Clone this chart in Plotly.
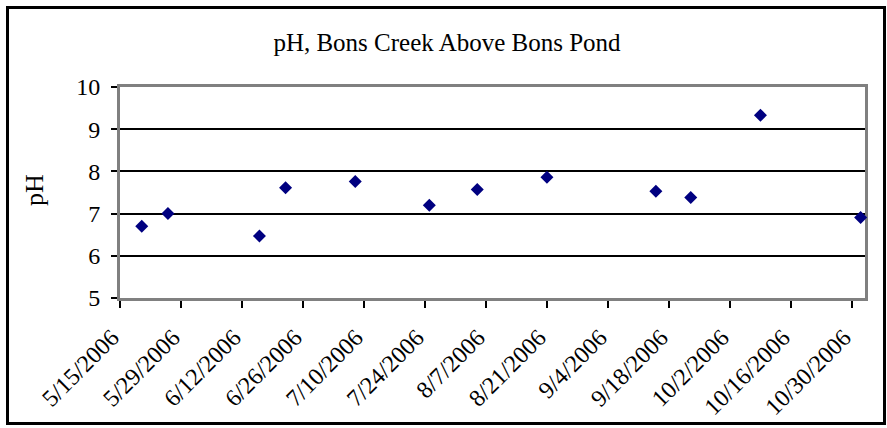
import plotly.graph_objects as go

# ---- data ----
sample_dates = ["2006-05-20", "2006-05-26", "2006-06-16", "2006-06-22", "2006-07-08",
                "2006-07-25", "2006-08-05", "2006-08-21", "2006-09-15", "2006-09-23",
                "2006-10-09", "2006-11-01"]
ph_values = [6.70, 7.00, 6.47, 7.61, 7.76, 7.20, 7.57, 7.86, 7.53, 7.38, 9.33, 6.91]

tick_dates = ["2006-05-15", "2006-05-29", "2006-06-12", "2006-06-26", "2006-07-10",
              "2006-07-24", "2006-08-07", "2006-08-21", "2006-09-04", "2006-09-18",
              "2006-10-02", "2006-10-16", "2006-10-30"]
tick_labels = ["5/15/2006", "5/29/2006", "6/12/2006", "6/26/2006", "7/10/2006",
               "7/24/2006", "8/7/2006", "8/21/2006", "9/4/2006", "9/18/2006",
               "10/2/2006", "10/16/2006", "10/30/2006"]
y_ticks = [5, 6, 7, 8, 9, 10]

title_text = "pH, Bons Creek Above Bons Pond"
y_title = "pH"

# ---- layout geometry ----
W, H = 887, 428
ML, MR, MT, MB = 120, 22, 87, 130
PW, PH = W - ML - MR, H - MT - MB

def px_x(p):
    return (p - ML) / PW

def px_y(p):
    return 1 - (p - MT) / PH

FONT = "Liberation Serif"

fig = go.Figure()
fig.add_trace(go.Scatter(
    x=sample_dates, y=ph_values, mode="markers",
    marker=dict(symbol="diamond", size=10, color="#000080", line=dict(width=0)),
    showlegend=False, cliponaxis=False,
))

fig.update_layout(
    width=W, height=H,
    margin=dict(l=ML, r=MR, t=MT, b=MB, autoexpand=False),
    paper_bgcolor="white", plot_bgcolor="white",
    font=dict(family=FONT, color="black"),
    title=dict(text=title_text, xref="container", yref="container",
               x=447 / W, y=1 - 42 / H, xanchor="center", yanchor="middle",
               font=dict(family=FONT, size=25, color="black")),
    xaxis=dict(
        type="date", range=["2006-05-15", "2006-11-02"], automargin=False,
        tickmode="array", tickvals=tick_dates, ticktext=tick_labels,
        tickangle=-45, tickfont=dict(family=FONT, size=24, color="black"),
        ticklabelshift=-8, ticklabelstandoff=6,
        ticks="outside", ticklen=7, tickcolor="black", tickwidth=1.5,
        showgrid=False, zeroline=False,
        showline=True, mirror=True, linecolor="#808080", linewidth=3,
        layer="below traces",
    ),
    yaxis=dict(
        range=[5, 10], tickmode="array", tickvals=y_ticks, automargin=False,
        tickfont=dict(family=FONT, size=24, color="black"),
        ticklabelstandoff=6,
        ticks="outside", ticklen=6, tickcolor="black", tickwidth=1.5,
        showgrid=True, gridcolor="black", gridwidth=2, zeroline=False,
        showline=True, mirror=True, linecolor="#808080", linewidth=3,
        layer="below traces",
    ),
    annotations=[dict(
        text=y_title, xref="paper", yref="paper", x=px_x(34), y=px_y(190),
        xanchor="center", yanchor="middle", textangle=-90, showarrow=False,
        font=dict(family=FONT, size=26, color="black"),
    )],
    shapes=[dict(
        type="rect", xref="paper", yref="paper",
        x0=px_x(7.5), x1=px_x(884.5), y0=px_y(7.5), y1=px_y(423.5),
        line=dict(color="black", width=3), fillcolor="rgba(0,0,0,0)", layer="above",
    )],
)

fig.write_html("out.html")
